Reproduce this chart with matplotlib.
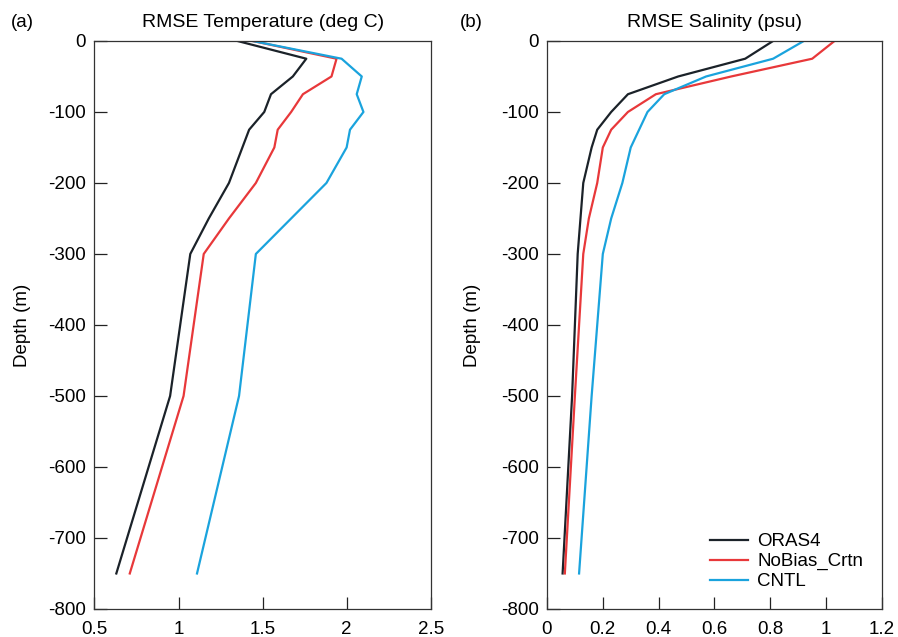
"""RMSE profiles of temperature and salinity against depth."""

import numpy as np
import matplotlib
matplotlib.use("Agg")
import matplotlib.pyplot as plt

plt.rcParams['font.family'] = ['Liberation Sans', 'DejaVu Sans']
plt.rcParams['axes.unicode_minus'] = False

# Depth levels (m)
depth = [0, -25, -50, -75, -100, -125, -150, -200, -250, -300, -500, -750]

# RMSE temperature (deg C)
temp_oras4 = [1.35, 1.76, 1.68, 1.55, 1.51, 1.42, 1.38, 1.30, 1.18, 1.07, 0.95, 0.63]
temp_nobias = [1.44, 1.94, 1.91, 1.74, 1.67, 1.59, 1.57, 1.46, 1.30, 1.15, 1.03, 0.71]
temp_cntl = [1.44, 1.97, 2.09, 2.06, 2.10, 2.02, 2.00, 1.88, 1.67, 1.46, 1.36, 1.11]

# RMSE salinity (psu)
sal_oras4 = [0.81, 0.71, 0.47, 0.29, 0.23, 0.18, 0.16, 0.13, 0.12, 0.11, 0.09, 0.056]
sal_nobias = [1.03, 0.95, 0.66, 0.39, 0.29, 0.23, 0.20, 0.18, 0.15, 0.13, 0.10, 0.064]
sal_cntl = [0.92, 0.81, 0.57, 0.42, 0.36, 0.33, 0.30, 0.27, 0.23, 0.20, 0.16, 0.115]

labels = ['ORAS4', 'NoBias_Crtn', 'CNTL']
colors = ['#1b2229', '#e8383a', '#1aa3dd']

temp_xticks = [0.5, 1, 1.5, 2, 2.5]
sal_xticks = [0, 0.2, 0.4, 0.6, 0.8, 1, 1.2]
yticks = np.arange(-800, 1, 100)

FS = 13.5

fig = plt.figure(figsize=(8.98, 6.37), dpi=100)
ax1 = fig.add_axes([0.1052, 0.044, 0.3744, 0.8917])
ax2 = fig.add_axes([0.6091, 0.044, 0.3731, 0.8917])

panels = [
    (ax1, [temp_oras4, temp_nobias, temp_cntl], temp_xticks, (0.5, 2.5),
     'RMSE Temperature (deg C)', '(a)', -0.248, -0.189),
    (ax2, [sal_oras4, sal_nobias, sal_cntl], sal_xticks, (0, 1.2),
     'RMSE Salinity (psu)', '(b)', -0.26, -0.197),
]

for ax, series, xt, xl, title, tag, tag_x, lab_x in panels:
    for vals, lab, col in zip(series, labels, colors):
        ax.plot(vals, depth, color=col, lw=1.6, label=lab)
    ax.set_xlim(*xl)
    ax.set_ylim(-800, 0)
    ax.set_xticks(xt)
    ax.set_xticklabels([f'{v:g}' for v in xt])
    ax.set_yticks(yticks)
    ax.tick_params(direction='in', length=9, width=0.9, labelsize=FS,
                   color='#222222', pad=6)
    ax.tick_params(axis='x', pad=9)
    for sp in ax.spines.values():
        sp.set_color('#333333')
        sp.set_linewidth(0.9)
    ax.set_ylabel('Depth (m)', fontsize=FS)
    ax.yaxis.set_label_coords(lab_x, 0.5)
    ax.text(0.5, 1.032, title, transform=ax.transAxes, fontsize=14,
            ha='center', va='center')
    ax.text(tag_x, 1.032, tag, transform=ax.transAxes, fontsize=FS,
            ha='left', va='center')

ax2.legend(loc='lower right', frameon=False, fontsize=FS, handlelength=2.0,
           labelspacing=0.15, borderaxespad=0.6, handletextpad=0.5)

fig.savefig('out.png', dpi=100)
